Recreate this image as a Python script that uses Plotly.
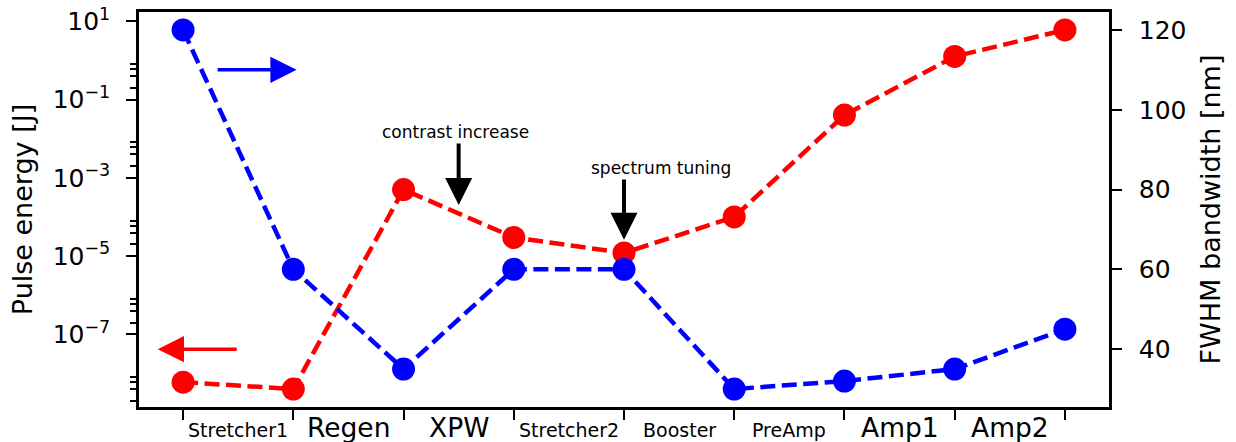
import numpy as np
import plotly.graph_objects as go

# ---- data ----
stages = [0, 1, 2, 3, 4, 5, 6, 7, 8]
stage_labels = ["Stretcher1", "Regen", "XPW", "Stretcher2", "Booster",
                "PreAmp", "Amp1", "Amp2"]
label_is_big = [False, True, True, False, False, False, True, True]
pulse_energy = [6e-9, 4e-9, 5e-4, 3e-5, 1.2e-5, 1e-4, 0.04, 1.26, 6.0]   # J
fwhm_bandwidth = [120, 60, 35, 60, 60, 30, 32, 35, 45]                  # nm
energy_tick_exps = [1, -1, -3, -5, -7]
bandwidth_ticks = [40, 60, 80, 100, 120]

RED = "#ff0000"
BLUE = "#0000ff"
FONT = "DejaVu Sans"

# axis ranges with 5% margins (matplotlib-like autoscale)
xlo, xhi = min(stages), max(stages)
xpad = 0.05 * (xhi - xlo)
ylo, yhi = np.log10(min(pulse_energy)), np.log10(max(pulse_energy))
ypad = 0.05 * (yhi - ylo)
blo, bhi = min(fwhm_bandwidth), max(fwhm_bandwidth)
bpad = 0.05 * (bhi - blo)

minor_vals = [k * 10.0 ** e for e in range(-9, 0, 2) for k in (2, 4, 6, 8)]

fig = go.Figure()
fig.add_trace(go.Scatter(
    x=stages, y=pulse_energy, mode="lines+markers", yaxis="y",
    line=dict(color=RED, width=4.5, dash="15px,6.5px"),
    marker=dict(size=23, color=RED), showlegend=False,
))
fig.add_trace(go.Scatter(
    x=stages, y=fwhm_bandwidth, mode="lines+markers", yaxis="y2",
    line=dict(color=BLUE, width=4.5, dash="15px,6.5px"),
    marker=dict(size=23, color=BLUE), showlegend=False,
))

axis_common = dict(showline=True, linecolor="black", linewidth=2.5,
                   ticks="outside", ticklen=10, tickwidth=2, tickcolor="black",
                   showgrid=False, zeroline=False, automargin=False)

def sup(e):
    return "10<sup>%s</sup>" % (str(e).replace("-", "\u2212"))

PLOT_TOP, PLOT_BOTTOM = 12, 407
PLOT_H = PLOT_BOTTOM - PLOT_TOP

def py_to_paper(py):
    return (PLOT_BOTTOM - py) / PLOT_H

fig.update_layout(
    width=1236, height=442,
    margin=dict(l=139, r=127, t=PLOT_TOP, b=442 - PLOT_BOTTOM, pad=0),
    paper_bgcolor="white", plot_bgcolor="white",
    font=dict(family=FONT, color="black", size=25),
    xaxis=dict(range=[xlo - xpad, xhi + xpad], tickmode="array",
               tickvals=stages, showticklabels=False, mirror=True,
               **axis_common),
    yaxis=dict(type="log", range=[ylo - ypad, yhi + ypad], tickmode="array",
               tickvals=[10.0 ** e for e in energy_tick_exps],
               ticktext=[sup(e) for e in energy_tick_exps],
               tickfont=dict(size=25), mirror=True, ticklabelstandoff=11,
               minor=dict(tickmode="array", tickvals=minor_vals, ticks="outside",
                          ticklen=6, tickwidth=1.5, tickcolor="black", showgrid=False),
               title=dict(text="Pulse energy [J]", font=dict(size=27), standoff=13),
               **axis_common),
    yaxis2=dict(overlaying="y", side="right", range=[blo - bpad, bhi + bpad],
                tickmode="array", tickvals=bandwidth_ticks,
                tickfont=dict(size=25), ticklabelstandoff=12,
                title=dict(text="FWHM bandwidth [nm]", font=dict(size=27), standoff=16),
                **axis_common),
)

# stage labels centred between ticks
for i, (lab, big) in enumerate(zip(stage_labels, label_is_big)):
    fig.add_annotation(x=stages[i] + 0.5, xref="x",
                       y=py_to_paper(427 if big else 430), yref="paper",
                       text=lab, showarrow=False, xanchor="center", yanchor="middle",
                       font=dict(family=FONT, size=26.5 if big else 19, color="black"))

# direction arrows (axis indicators)
fig.add_annotation(x=1.03, y=110, xref="x", yref="y2", ax=0.3, ay=110,
                   axref="x", ayref="y2", text="", showarrow=True, arrowhead=2,
                   arrowwidth=3.5, arrowsize=1.5, arrowcolor=BLUE, standoff=0)
fig.add_annotation(x=-0.23, y=40, xref="x", yref="y2", ax=0.5, ay=40,
                   axref="x", ayref="y2", text="", showarrow=True, arrowhead=2,
                   arrowwidth=3.5, arrowsize=1.5, arrowcolor=RED, standoff=0)

# black annotation arrows
fig.add_annotation(x=2.5, y=76.1, xref="x", yref="y2", ax=2.5, ay=91.9,
                   axref="x", ayref="y2", text="", showarrow=True, arrowhead=2,
                   arrowwidth=4, arrowsize=1.35, arrowcolor="black", standoff=0)
fig.add_annotation(x=4.0, y=67.4, xref="x", yref="y2", ax=4.0, ay=82.9,
                   axref="x", ayref="y2", text="", showarrow=True, arrowhead=2,
                   arrowwidth=4, arrowsize=1.35, arrowcolor="black", standoff=0)
fig.add_annotation(x=2.47, y=94.5, xref="x", yref="y2", text="contrast increase",
                   showarrow=False, xanchor="center", yanchor="middle",
                   font=dict(family=FONT, size=17, color="black"))
fig.add_annotation(x=4.337, y=85.3, xref="x", yref="y2", text="spectrum tuning",
                   showarrow=False, xanchor="center", yanchor="middle",
                   font=dict(family=FONT, size=17, color="black"))

fig.write_html("out.html")
